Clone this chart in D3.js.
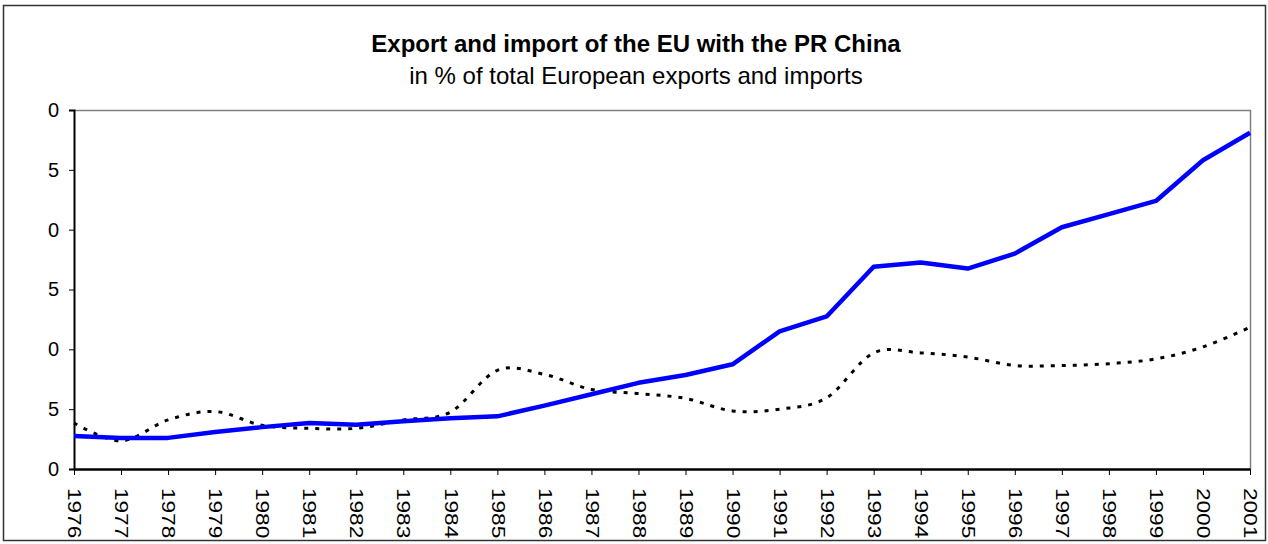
<!DOCTYPE html>
<html>
<head>
<meta charset="utf-8">
<script src="https://cdn.jsdelivr.net/npm/d3@7"></script>
<style>
  body { margin: 0; background: #fff; }
  svg text { font-family: "Liberation Sans", Arial, sans-serif; fill: #000; }
</style>
</head>
<body>
<div id="chart"></div>
<script>
const years = ['1976','1977','1978','1979','1980','1981','1982','1983','1984','1985','1986','1987','1988',
               '1989','1990','1991','1992','1993','1994','1995','1996','1997','1998','1999','2000','2001'];
const exportShare = [2.75, 2.6, 2.6, 3.1, 3.5, 3.85, 3.7, 4.0, 4.25, 4.4, 5.3, 6.25, 7.2,
                     7.85, 8.75, 11.5, 12.75, 16.9, 17.25, 16.75, 18.0, 20.2, 21.3, 22.4, 25.8, 28.1];
const importShare = [3.85, 2.35, 4.1, 4.8, 3.65, 3.4, 3.4, 4.1, 4.75, 8.25, 7.9, 6.65, 6.3,
                     5.9, 4.85, 5.0, 5.95, 9.7, 9.7, 9.35, 8.65, 8.65, 8.8, 9.2, 10.2, 11.85];
const yTicks = [0, 5, 10, 15, 20, 25, 30];
const yTickLabels = ['0', '5', '0', '5', '0', '5', '0'];
const title = 'Export and import of the EU with the PR China';
const subtitle = 'in % of total European exports and imports';

const width = 1268, height = 544;
const margin = {top: 110, right: 18, bottom: 75, left: 74};

const svg = d3.select('#chart')
              .append('svg')
              .attr('width', width)
              .attr('height', height);

// outer frame
svg.append('rect')
  .attr('x', 3.5).attr('y', 5.5)
  .attr('width', 1262).attr('height', 535)
  .attr('fill', 'none')
  .attr('stroke', '#333')
  .attr('stroke-width', 1.5);

svg.append('text')
  .attr('x', 636).attr('y', 52)
  .attr('text-anchor', 'middle')
  .style('font-size', '24px')
  .style('font-weight', 'bold')
  .text(title);

svg.append('text')
  .attr('x', 636).attr('y', 84)
  .attr('text-anchor', 'middle')
  .style('font-size', '24px')
  .text(subtitle);

const x = d3.scalePoint()
            .domain(years)
            .range([margin.left, width - margin.right]);

const y = d3.scaleLinear()
            .domain([0, 30])
            .range([height - margin.bottom, margin.top]);

// plot frame (top and right in grey)
svg.append('path')
  .attr('d', `M${margin.left},${margin.top + 0.5}H${width - margin.right + 0.5}V${height - margin.bottom}`)
  .attr('fill', 'none')
  .attr('stroke', '#808080')
  .attr('stroke-width', 1.5);

// Y axis
const yAxis = d3.axisLeft(y)
                .tickValues(yTicks)
                .tickSize(5)
                .tickPadding(10)
                .tickFormat((d, i) => yTickLabels[i]);

svg.append('g')
  .attr('transform', `translate(${margin.left},0)`)
  .call(yAxis)
  .call(g => g.select('.domain').attr('stroke-width', 2))
  .call(g => g.selectAll('text')
              .style('font-family', '"Liberation Sans", Arial, sans-serif')
              .style('font-size', '20px'));

// X axis
const xAxis = d3.axisBottom(x)
                .tickSize(6)
                .tickSizeOuter(0);

svg.append('g')
  .attr('transform', `translate(0,${height - margin.bottom})`)
  .call(xAxis)
  .call(g => g.select('.domain').attr('stroke-width', 2.5))
  .call(g => g.selectAll('text')
              .attr('transform', 'rotate(90) scale(1.26,1)')
              .attr('x', 15)
              .attr('y', 0)
              .attr('dy', '0.35em')
              .attr('text-anchor', 'start')
              .style('font-family', '"Liberation Sans", Arial, sans-serif')
              .style('font-size', '18px'));

// Import line (smoothed, dotted)
const importLine = d3.line()
                     .x((d, i) => x(years[i]))
                     .y(d => y(d))
                     .curve(d3.curveCatmullRom.alpha(0));

svg.append('path')
  .datum(importShare)
  .attr('fill', 'none')
  .attr('stroke', '#000')
  .attr('stroke-width', 3)
  .attr('stroke-dasharray', '4,7')
  .attr('d', importLine);

// Export line
const exportLine = d3.line()
                     .x((d, i) => x(years[i]))
                     .y(d => y(d));

svg.append('path')
  .datum(exportShare)
  .attr('fill', 'none')
  .attr('stroke', '#0000ff')
  .attr('stroke-width', 4.5)
  .attr('stroke-linejoin', 'round')
  .attr('d', exportLine);
</script>
</body>
</html>
